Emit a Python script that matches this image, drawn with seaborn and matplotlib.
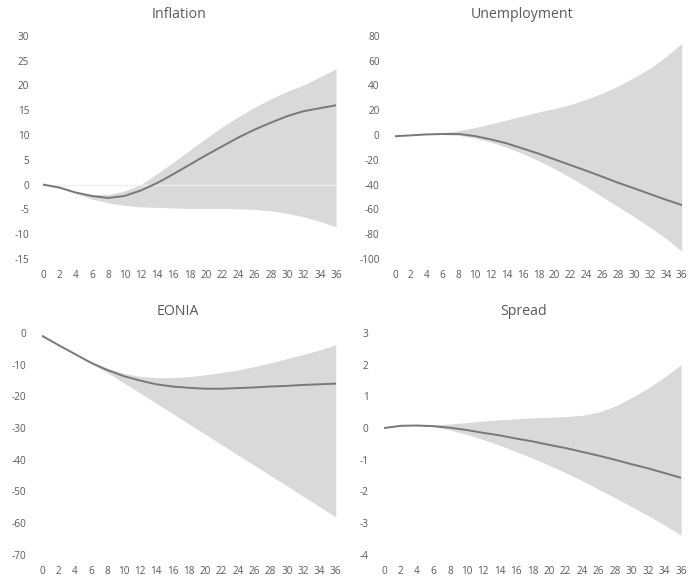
import numpy as np
import pandas as pd
import matplotlib
matplotlib.use("Agg")
import matplotlib.pyplot as plt
import seaborn as sns

# Horizon (months) at which the impulse responses are shown
months = list(range(0, 37, 2))

# Inflation response: median and band bounds
infl_mid = [0, -0.6, -1.6, -2.3, -2.7, -2.3, -1.2, 0.3, 2.1, 4.0, 5.9, 7.7, 9.5, 11.1, 12.5, 13.8, 14.8, 15.4, 16.0]
infl_hi = [0, -0.5, -1.4, -2.0, -2.0, -1.3, 0.0, 2.2, 4.5, 6.9, 9.3, 11.6, 13.7, 15.6, 17.3, 18.8, 20.1, 21.7, 23.4]
infl_lo = [0, -0.7, -1.8, -2.9, -3.7, -4.2, -4.5, -4.6, -4.7, -4.8, -4.8, -4.8, -4.9, -5.0, -5.3, -5.8, -6.5, -7.4, -8.5]

# Unemployment response
unemp_mid = [-1, -0.3, 0.5, 0.8, 0.8, -0.8, -3.5, -6.7, -10.8, -15.0, -19.6, -24.2, -28.8, -33.6, -38.5, -43.0, -47.6, -52.2, -56.5]
unemp_hi = [-1, -0.2, 0.8, 1.9, 3.5, 5.9, 8.9, 12.1, 15.3, 18.6, 21.3, 24.5, 28.8, 33.6, 39.5, 46.3, 53.8, 63.2, 74.0]
unemp_lo = [-1, -0.4, 0.3, 0.3, -0.3, -2.4, -5.6, -10.0, -14.8, -20.7, -27.2, -34.2, -41.7, -49.8, -57.8, -65.9, -74.5, -83.4, -93.8]

# EONIA response
eonia_mid = [-0.9, -3.8, -6.6, -9.4, -11.7, -13.6, -15.0, -16.2, -16.9, -17.3, -17.6, -17.6, -17.4, -17.2, -16.9, -16.7, -16.4, -16.2, -16.0]
eonia_hi = [-0.9, -3.7, -6.5, -9.2, -11.1, -12.7, -13.7, -14.1, -14.1, -13.8, -13.2, -12.5, -11.7, -10.6, -9.5, -8.1, -6.8, -5.4, -3.7]
eonia_lo = [-0.9, -3.9, -6.8, -9.7, -12.5, -15.7, -18.9, -22.2, -25.4, -28.7, -31.9, -35.2, -38.5, -41.7, -45.0, -48.2, -51.5, -54.8, -58.0]

# Spread response
spread_mid = [0, 0.07, 0.08, 0.06, 0.01, -0.06, -0.15, -0.23, -0.33, -0.42, -0.53, -0.63, -0.75, -0.87, -1.0, -1.14, -1.27, -1.42, -1.57]
spread_hi = [0, 0.07, 0.08, 0.09, 0.13, 0.17, 0.22, 0.26, 0.29, 0.32, 0.34, 0.36, 0.40, 0.50, 0.69, 0.96, 1.26, 1.61, 2.0]
spread_lo = [0, 0.07, 0.07, 0.04, -0.06, -0.2, -0.36, -0.54, -0.74, -0.95, -1.17, -1.41, -1.66, -1.93, -2.2, -2.48, -2.76, -3.06, -3.38]

titles = ["Inflation", "Unemployment", "EONIA", "Spread"]
y_ticks = [
    list(range(-15, 31, 5)),
    list(range(-100, 81, 20)),
    list(range(-70, 1, 10)),
    list(range(-4, 4, 1)),
]
x_ticks = list(range(0, 37, 2))

sns.set_theme(style="white")
plt.rcParams["font.family"] = ["Open Sans", "DejaVu Sans"]

TEXT = "#595959"
LINE = "#787878"
BAND = "#d9d9d9"

fig = plt.figure(figsize=(6.88, 5.78), dpi=100)

# panel rectangles in figure fractions: left, bottom, width, height
rects = [
    (0.0625, 0.552, 0.426, 0.386),
    (0.574, 0.552, 0.417, 0.386),
    (0.061, 0.040, 0.427, 0.384),
    (0.558, 0.040, 0.432, 0.384),
]
title_x = [0.464, 0.443, 0.463, 0.471]
ypads = [10, 11, 11, 11]

series = [
    (infl_mid, infl_lo, infl_hi),
    (unemp_mid, unemp_lo, unemp_hi),
    (eonia_mid, eonia_lo, eonia_hi),
    (spread_mid, spread_lo, spread_hi),
]

for i, (mid, lo, hi) in enumerate(series):
    ax = fig.add_axes(rects[i])
    df = pd.DataFrame({"month": months, "mid": mid, "lo": lo, "hi": hi})
    ax.fill_between(df["month"], df["lo"], df["hi"], color=BAND, lw=0, zorder=1)
    if i == 0:
        ax.axhline(0, color="#eeeeee", lw=0.9, zorder=2)
    sns.lineplot(data=df, x="month", y="mid", ax=ax, color=LINE, lw=1.4, zorder=3)

    ax.set_xlim(0, 36)
    yt = y_ticks[i]
    ax.set_ylim(min(yt), max(yt))
    ax.set_yticks(yt)
    ax.set_yticklabels([str(v) for v in yt])
    ax.set_xticks(x_ticks)
    ax.set_xticklabels([str(v) for v in x_ticks])
    ax.set_xlabel("")
    ax.set_ylabel("")
    for s in ax.spines.values():
        s.set_visible(False)
    ax.tick_params(axis="y", length=0, pad=ypads[i], labelsize=7.2, colors=TEXT)
    ax.tick_params(axis="x", length=0, pad=8, labelsize=7.2, colors=TEXT)
    ax.set_title(titles[i], x=title_x[i], pad=13, fontsize=10.2, color=TEXT)
    ax.grid(False)
    ax.set_facecolor("white")

fig.savefig("out.png", dpi=100, facecolor="white")
